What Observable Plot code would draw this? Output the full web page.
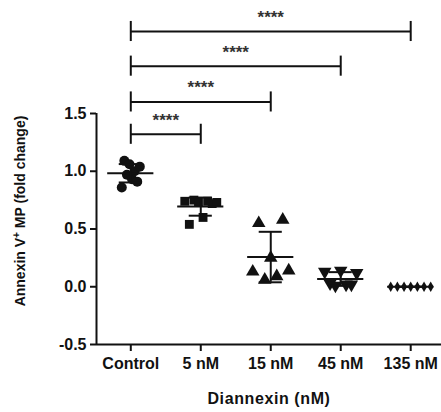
<!DOCTYPE html>
<html>
<head>
<meta charset="utf-8">
<script src="https://cdn.jsdelivr.net/npm/d3@7"></script>
<script src="https://cdn.jsdelivr.net/npm/@observablehq/plot@0.6"></script>
<style>
  html, body { margin: 0; padding: 0; background: #fff; }
  #chart svg { display: block; }
</style>
</head>
<body>
<div id="chart"></div>
<script>
// ---- data ----
const categories = ["Control", "5 nM", "15 nM", "45 nM", "135 nM"];
const control = [0.86, 1.09, 0.97, 1.06, 0.93, 1.00, 0.91, 1.04];
const nm5     = [0.74, 0.54, 0.75, 0.73, 0.60, 0.74, 0.72, 0.73];
const nm15    = [0.13, 0.55, 0.06, 0.25, 0.09, 0.58, 0.14];
const nm45    = [0.13, 0.03, 0.01, 0.14, 0.02, 0.02, 0.12];
const nm135   = [0.0, 0.0, 0.0, 0.0, 0.0, 0.0, 0.0];
const yTicks  = [-0.5, 0.0, 0.5, 1.0, 1.5];
const bracketFrom = ["Control", "Control", "Control", "Control"];
const bracketTo   = ["5 nM", "15 nM", "45 nM", "135 nM"];
const bracketY    = [1.32, 1.60, 1.91, 2.21];
const bracketText = ["****", "****", "****", "****"];
const xTitle = "Diannexin (nM)";
const yTitle = "Annexin V+ MP (fold change)";

// ---- rendering ----
const groups = [control, nm5, nm15, nm45, nm135];
const downTriangle = {
  draw(context, size) {
    const s3 = Math.sqrt(3);
    const y = Math.sqrt(size / (s3 * 3));
    context.moveTo(0, y * 2);
    context.lineTo(-s3 * y, -y);
    context.lineTo(s3 * y, -y);
    context.closePath();
  }
};
const symbols = ["circle", "square", "triangle", downTriangle, "diamond"];
const radii = [5, 5, 5, 5, 3.2];
const halfSpreadPx = [9, 16, 18, 16, 20];
const pxPerUnit = 70;

const points = [];
groups.forEach((vals, gi) => {
  const n = vals.length;
  vals.forEach((v, i) => {
    const off = n > 1 ? (-1 + 2 * i / (n - 1)) * halfSpreadPx[gi] / pxPerUnit : 0;
    points.push({g: gi, x: gi + off, y: v});
  });
});
const stats = groups.map((vals, gi) => ({
  g: gi, mean: d3.mean(vals), sd: d3.deviation(vals) || 0
}));
const brackets = bracketY.map((y, i) => ({
  x1: categories.indexOf(bracketFrom[i]),
  x2: categories.indexOf(bracketTo[i]),
  y, t: bracketText[i]
}));

const ink = "#111";
const capV = 10 / 115; // bracket end tick half-height in data units

const marks = [
  Plot.ruleY([-0.5], {stroke: ink, strokeWidth: 2}),
  Plot.ruleX([-0.49], {y1: -0.5, y2: 1.5, stroke: ink, strokeWidth: 2}),
  Plot.axisX({ticks: [0, 1, 2, 3, 4], tickFormat: i => categories[i], tickSize: 7, tickPadding: 6,
    strokeWidth: 2, stroke: ink, fill: ink, fontSize: 16, label: null}),
  Plot.axisY({ticks: yTicks, tickFormat: d => d.toFixed(1), tickSize: 6, tickPadding: 4,
    strokeWidth: 2, stroke: ink, fill: ink, fontSize: 16, label: null}),
  // points
  ...groups.map((vals, gi) => Plot.dot(points.filter(p => p.g === gi), {
    x: "x", y: "y", symbol: () => symbols[gi], r: radii[gi], fill: ink, stroke: "none"
  })),
  // mean lines
  Plot.ruleY(stats, {x1: d => d.g - 0.33, x2: d => d.g + 0.33, y: "mean", stroke: ink, strokeWidth: 2}),
  // SD bars
  Plot.ruleX(stats, {x: "g", y1: d => d.mean - d.sd, y2: d => d.mean + d.sd, stroke: ink, strokeWidth: 2}),
  Plot.ruleY(stats, {x1: d => d.g - 0.165, x2: d => d.g + 0.165, y: d => d.mean + d.sd, stroke: ink, strokeWidth: 2}),
  Plot.ruleY(stats, {x1: d => d.g - 0.165, x2: d => d.g + 0.165, y: d => d.mean - d.sd, stroke: ink, strokeWidth: 2}),
  // significance brackets
  Plot.ruleY(brackets, {x1: "x1", x2: "x2", y: "y", stroke: ink, strokeWidth: 2}),
  Plot.ruleX(brackets, {x: "x1", y1: d => d.y - capV, y2: d => d.y + capV, stroke: ink, strokeWidth: 2}),
  Plot.ruleX(brackets, {x: "x2", y1: d => d.y - capV, y2: d => d.y + capV, stroke: ink, strokeWidth: 2}),
  Plot.text(brackets, {x: d => (d.x1 + d.x2) / 2, y: "y", text: "t", dy: -14, fontSize: 17, fill: "#333"}),
  // axis titles
  Plot.text([xTitle], {frameAnchor: "bottom", text: d => d, dy: 59, fontSize: 16, fill: ink, className: "xtitle"}),
  Plot.text([yTitle], {frameAnchor: "left", textAnchor: "middle", text: d => d, rotate: -90, dx: -76, dy: -18, fontSize: 14, fill: ink, className: "ytitle"})
];

const chart = Plot.plot({
  width: 441,
  height: 412,
  marginLeft: 96,
  marginRight: 0,
  marginTop: 113,
  marginBottom: 68,
  x: {type: "linear", domain: [-0.49, 4.44], axis: null},
  y: {domain: [-0.5, 1.5], axis: null},
  style: {fontFamily: "'Liberation Sans', Arial, Helvetica, sans-serif", fontWeight: "bold", background: "#fff", overflow: "visible"},
  marks
});

// letter spacing on x title, superscript + on y title
d3.select(chart).selectAll(".xtitle text").attr("letter-spacing", "0.6px");
d3.select(chart).selectAll(".ytitle text").each(function() {
  const t = d3.select(this);
  t.text(null);
  t.append("tspan").text("Annexin V");
  t.append("tspan").attr("font-size", 10).attr("dy", "-0.5em").text("+");
  t.append("tspan").attr("dy", "0.35em").text(" MP (fold change)");
});
document.getElementById("chart").appendChild(chart);
</script>
</body>
</html>
